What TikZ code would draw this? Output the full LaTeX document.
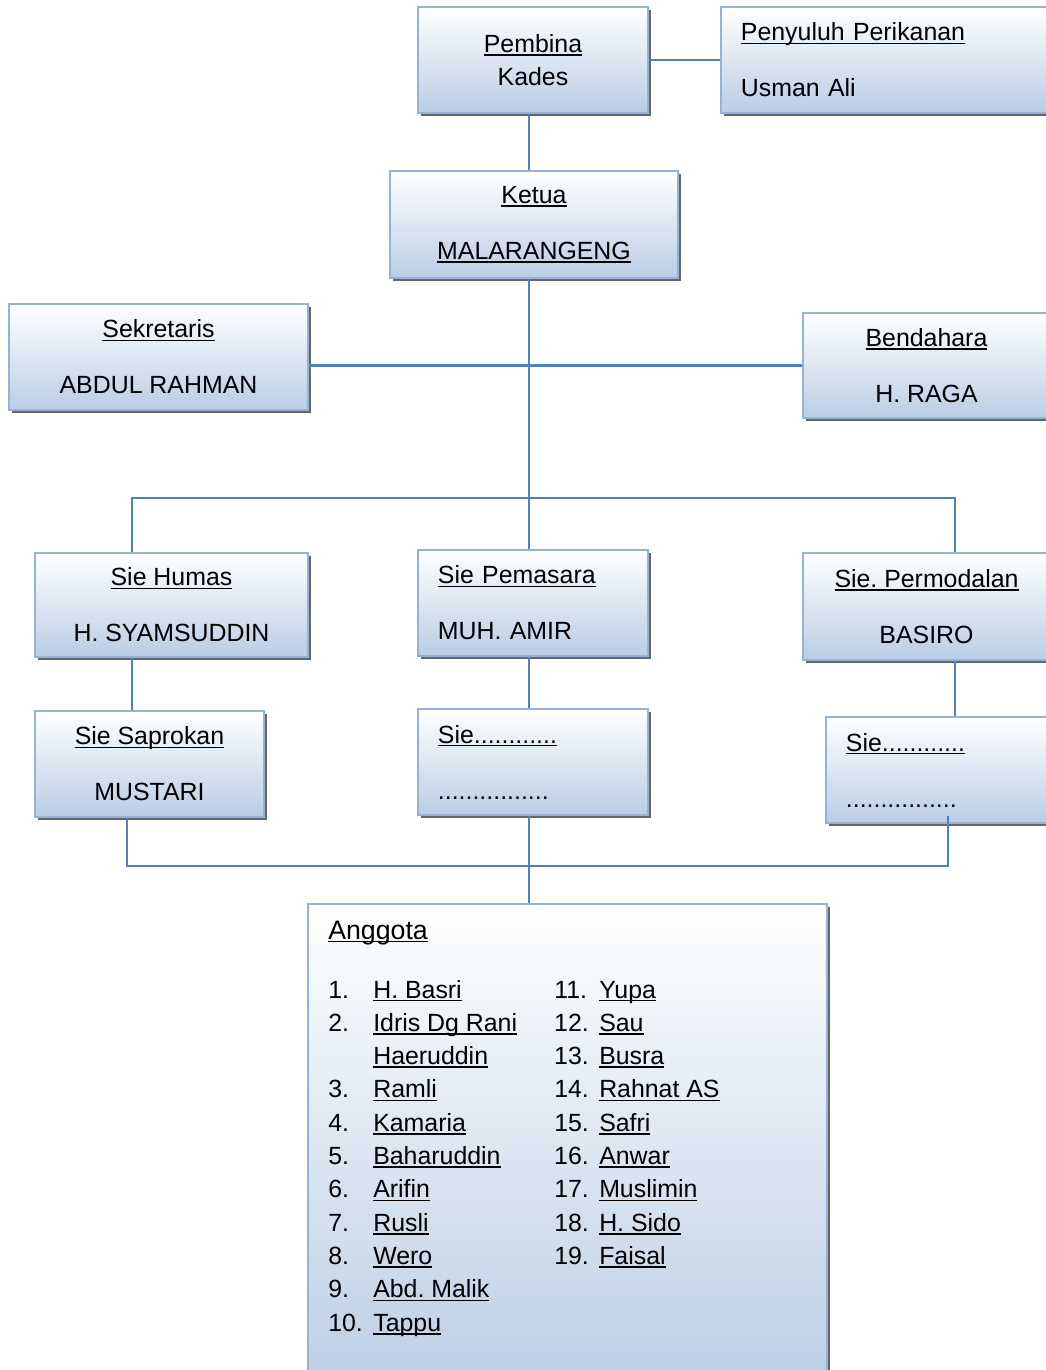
\documentclass[tikz,border=0pt]{standalone}
\usepackage{fontspec}
\setmainfont{Liberation Sans}
\usetikzlibrary{shadows}
\definecolor{boxedge}{RGB}{149,179,215}
\definecolor{boxfill}{RGB}{185,205,229}
\definecolor{linkblue}{RGB}{79,129,189}
\newcommand\ulname[1]{\leavevmode\setbox0\hbox{#1}\rlap{\rule[-2.4pt]{\wd0}{1.1pt}}\box0}
\frenchspacing
\setlength\tabcolsep{0pt}

\begin{document}
\begin{tikzpicture}[x=0.025cm, y=-0.025cm,
	orgbox/.style={draw=boxedge, line width=1.6pt, top color=white, bottom color=boxfill,
		drop shadow={shadow xshift=1.9pt, shadow yshift=-1.9pt, fill=black!60, opacity=1},
		font=\fontsize{17.7}{39.8}\selectfont, align=center, inner sep=0pt},
	leftbox/.style={orgbox, align=left, inner xsep=0.5cm},
	link/.style={draw=linkblue, line width=1.5pt}]
			%%%%% START %%%%%
			\useasboundingbox (0, 0) rectangle (1046, 1370);
			\clip (0, 0) rectangle (1046, 1370);
			
			% top
			\node[orgbox, minimum width=5.75cm, minimum height=2.65cm, font=\fontsize{17.7}{23.5}\selectfont] (pembina) at (533, 60) {\ulname{Pembina}\\Kades};
			\node[leftbox, text width=7.475cm, minimum height=2.65cm] (penyuluh) at (890.5, 60) {\ulname{Penyuluh Perikanan}\\Usman Ali};
			\node[orgbox, minimum width=7.2cm, minimum height=2.675cm] (ketua) at (534, 224.5) {\ulname{Ketua}\\\ulname{MALARANGENG}};
			
			\node[orgbox, minimum width=7.475cm, minimum height=2.65cm] (sekretaris) at (158.5, 357) {\ulname{Sekretaris}\\ABDUL RAHMAN};
			\node[orgbox, minimum width=6.175cm, minimum height=2.625cm] (bendahara) at (926.5, 365.5) {\ulname{Bendahara}\\H. RAGA};
			
			% sie
			\node[orgbox, minimum width=6.825cm, minimum height=2.6cm] (humas) at (171.5, 605) {\ulname{Sie Humas}\\H. SYAMSUDDIN};
			\node[leftbox, text width=4.75cm, minimum height=2.65cm] (pemasaran) at (533, 603) {\ulname{Sie Pemasara}\\MUH. AMIR};
			\node[orgbox, minimum width=6.175cm, minimum height=2.675cm] (permodalan) at (926.5, 606.5) {\ulname{Sie. Permodalan}\\BASIRO};
			
			\node[orgbox, minimum width=5.725cm, minimum height=2.65cm] (saprokan) at (149.5, 764) {\ulname{Sie Saprokan}\\MUSTARI};
			\node[leftbox, text width=4.75cm, minimum height=2.65cm] (siemid) at (533, 762) {\ulname{Sie............}\\................};
			\node[leftbox, text width=4.85cm, minimum height=2.65cm] (sieright) at (943, 770) {\ulname{Sie............}\\................};
			
			% anggota
			\node[orgbox, minimum width=12.975cm, minimum height=12.4cm] (anggota) at (567.5, 1152) {};
			\node[anchor=base west, inner sep=0pt, font=\fontsize{19}{23}\selectfont] (anggotatitle) at (328, 939) {\ulname{Anggota}};
			\node[anchor=base west, inner sep=0pt, font=\fontsize{17.7}{23.7}\selectfont] (members) at (328, 998) {%
				\begin{tabular}[t]{@{}p{32pt}p{128.7pt}p{32pt}l@{}}
				1. & \ulname{H. Basri} & 11. & \ulname{Yupa}\\
				2. & \ulname{Idris Dg Rani} & 12. & \ulname{Sau}\\
				 & \ulname{Haeruddin} & 13. & \ulname{Busra}\\
				3. & \ulname{Ramli} & 14. & \ulname{Rahnat AS}\\
				4. & \ulname{Kamaria} & 15. & \ulname{Safri}\\
				5. & \ulname{Baharuddin} & 16. & \ulname{Anwar}\\
				6. & \ulname{Arifin} & 17. & \ulname{Muslimin}\\
				7. & \ulname{Rusli} & 18. & \ulname{H. Sido}\\
				8. & \ulname{Wero} & 19. & \ulname{Faisal}\\
				9. & \ulname{Abd. Malik} & & \\
				10. & \ulname{Tappu} & & \\
				\end{tabular}};
			
			% connectors
			\coordinate (trunk) at (529, 498);
			\coordinate (hL) at (132, 498);
			\coordinate (hR) at (955, 498);
			\coordinate (bL) at (127, 866);
			\coordinate (bR) at (948, 866);
			
			\draw[link] (pembina.east |- penyuluh.west) -- (penyuluh.west);
			\draw[link] (trunk |- pembina.south) -- (trunk |- ketua.north);
			\draw[link] (trunk |- ketua.south) -- (trunk |- pemasaran.north);
			\draw[link] (sekretaris.east |- bendahara.west) -- (bendahara.west);
			\draw[link] (hL |- humas.north) -- (hL) -- (hR) -- (hR |- permodalan.north);
			\draw[link] (hL |- humas.south) -- (hL |- saprokan.north);
			\draw[link] (trunk |- pemasaran.south) -- (trunk |- siemid.north);
			\draw[link] (hR |- permodalan.south) -- (hR |- sieright.north);
			\draw[link] (bL |- saprokan.south) -- (bL) -- (bR) -- ([yshift=0.2cm]bR |- sieright.south);
			\draw[link] (trunk |- siemid.south) -- (trunk |- anggota.north);
			
			%%%%% END %%%%%
\end{tikzpicture}
\end{document}
